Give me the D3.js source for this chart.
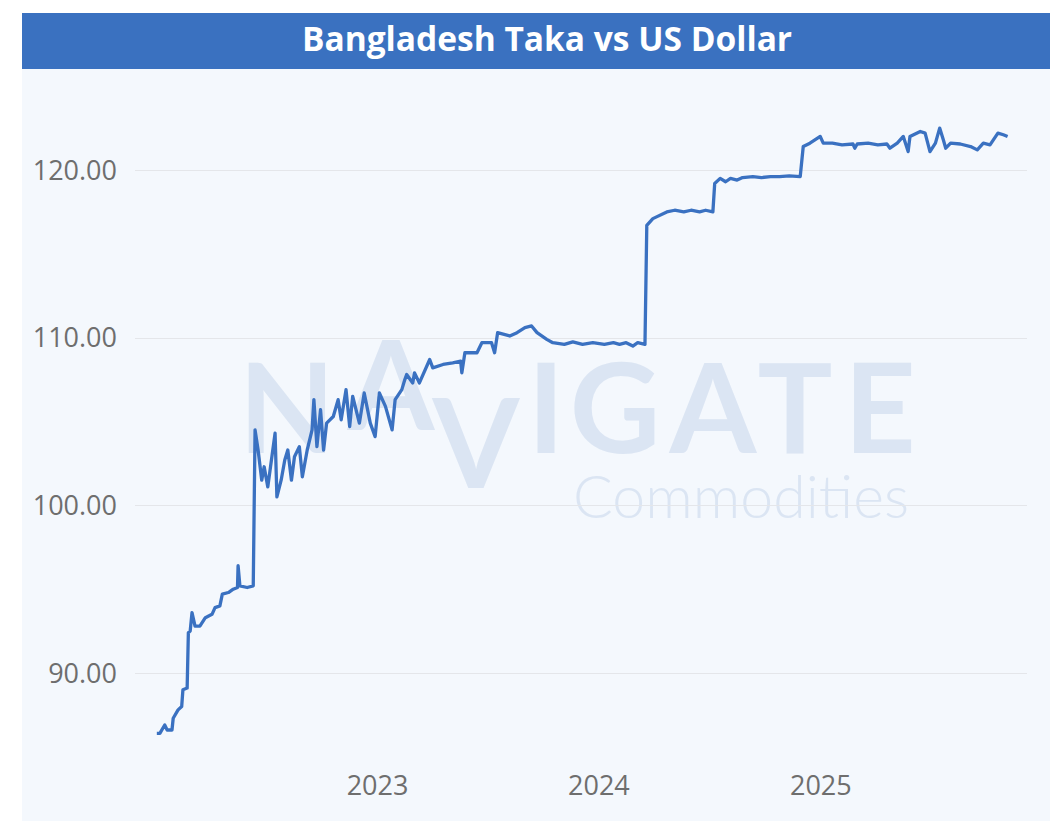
<!DOCTYPE html>
<meta charset="utf-8">
<style>
body { margin: 0; background: #fff; }
svg { display: block; font-family: "Open Sans", "Noto Sans", sans-serif; }
.grid line { stroke: #e4e6ea; stroke-width: 1px; }
.tick-label { fill: #6e6e6e; font-size: 27px; }
.title { fill: #fff; font-size: 33.5px; font-weight: 700; }
.wm { fill: #dbe5f3; font-family: Lato, "Open Sans", sans-serif; }
.rate { fill: none; stroke: #3a71c1; stroke-width: 3.3px; stroke-linejoin: round; }
</style>
<body>
<script src="https://cdn.jsdelivr.net/npm/d3@7"></script>
<script>

var width = 1050,
    height = 821;

// BDT per USD
var dates = [
  "2022-01-02","2022-01-07","2022-01-15","2022-01-19","2022-01-27","2022-01-29","2022-02-06","2022-02-12",
  "2022-02-14","2022-02-21","2022-02-23","2022-02-26","2022-03-01","2022-03-06","2022-03-14","2022-03-23",
  "2022-04-03","2022-04-08","2022-04-16","2022-04-20","2022-04-30","2022-05-08","2022-05-15","2022-05-16",
  "2022-05-19","2022-05-31","2022-06-10","2022-06-13","2022-06-18","2022-06-24","2022-06-28","2022-07-04",
  "2022-07-10","2022-07-16","2022-07-19","2022-07-26","2022-08-01","2022-08-06","2022-08-12","2022-08-17",
  "2022-08-25","2022-08-30","2022-09-07","2022-09-15","2022-09-18","2022-09-23","2022-09-29","2022-10-04",
  "2022-10-09","2022-10-20","2022-10-28","2022-11-02","2022-11-10","2022-11-16","2022-11-21","2022-12-02",
  "2022-12-10","2022-12-20","2022-12-28","2023-01-04","2023-01-14","2023-01-25","2023-01-30","2023-02-10",
  "2023-02-15","2023-02-18","2023-02-28","2023-03-03","2023-03-11","2023-03-28","2023-04-02","2023-04-19",
  "2023-05-05","2023-05-18","2023-05-20","2023-05-25","2023-06-14","2023-06-22","2023-07-08","2023-07-13",
  "2023-07-18","2023-08-07","2023-08-19","2023-09-01","2023-09-12","2023-09-21","2023-10-07","2023-10-17",
  "2023-11-05","2023-11-19","2023-12-05","2023-12-22","2024-01-10","2024-01-25","2024-02-04","2024-02-15",
  "2024-02-26","2024-03-05","2024-03-17","2024-03-20","2024-03-30","2024-04-22","2024-05-05","2024-05-20",
  "2024-06-01","2024-06-15","2024-06-25","2024-07-07","2024-07-10","2024-07-19","2024-07-28","2024-08-05",
  "2024-08-16","2024-08-25","2024-09-11","2024-09-25","2024-10-10","2024-10-25","2024-11-10","2024-11-28",
  "2024-12-03","2024-12-14","2024-12-31","2025-01-05","2025-01-20","2025-02-05","2025-02-23","2025-02-26",
  "2025-03-02","2025-03-20","2025-04-05","2025-04-20","2025-04-25","2025-05-07","2025-05-17","2025-05-25",
  "2025-05-28","2025-06-14","2025-06-22","2025-06-30","2025-07-09","2025-07-16","2025-07-22","2025-07-26",
  "2025-08-03","2025-08-19","2025-09-05","2025-09-16","2025-09-26","2025-10-07","2025-10-20","2025-10-29",
  "2025-11-05"
];

var rates = [
  86.4, 86.4, 86.9, 86.6, 86.6, 87.3, 87.8, 88.0,
  89.0, 89.1, 92.4, 92.5, 93.6, 92.8, 92.8, 93.3,
  93.5, 93.9, 94.0, 94.7, 94.8, 95.0, 95.1, 96.4,
  95.2, 95.1, 95.2, 104.5, 103.3, 101.5, 102.3, 101.1,
  102.7, 104.3, 100.5, 101.5, 102.7, 103.3, 101.5, 102.9,
  103.5, 101.7, 103.3, 104.5, 106.3, 103.5, 105.7, 103.3,
  104.9, 105.3, 106.3, 105.1, 106.9, 104.7, 106.5, 104.9,
  106.7, 104.9, 104.1, 106.7, 105.9, 104.5, 106.3, 106.9,
  107.5, 107.8, 107.3, 107.9, 107.3, 108.7, 108.2, 108.4,
  108.5, 108.6, 107.9, 109.1, 109.1, 109.7, 109.7, 109.1,
  110.3, 110.1, 110.3, 110.6, 110.7, 110.3, 109.9, 109.7,
  109.6, 109.75, 109.6, 109.7, 109.6, 109.7, 109.6, 109.7,
  109.5, 109.7, 109.6, 116.7, 117.1, 117.5, 117.6, 117.5,
  117.6, 117.5, 117.6, 117.5, 119.2, 119.5, 119.3, 119.5,
  119.4, 119.55, 119.6, 119.55, 119.6, 119.6, 119.65, 119.6,
  121.4, 121.6, 122.0, 121.6, 121.6, 121.5, 121.55, 121.3,
  121.55, 121.6, 121.5, 121.55, 121.3, 121.6, 122.0, 121.1,
  122.0, 122.3, 122.2, 121.1, 121.6, 122.5, 121.8, 121.3,
  121.6, 121.55, 121.4, 121.2, 121.6, 121.5, 122.2, 122.1,
  122.0
];

var yTicks = [90, 100, 110, 120];
var xTicks = ["2023-01-01", "2024-01-01", "2025-01-01"];
var titleText = "Bangladesh Taka vs US Dollar";

var parse = d3.utcParse("%Y-%m-%d");
var data = dates.map(function(d, i) { return { date: parse(d), value: rates[i] }; });

var x = d3.scaleUtc()
    .domain([parse("2021-11-27"), parse("2025-12-07")])
    .range([135, 1027]);

var y = d3.scaleLinear()
    .domain([90, 120])
    .range([673, 170]);

var svg = d3.select("body").append("svg")
    .attr("width", width)
    .attr("height", height);

// panel + title bar
svg.append("rect")
    .attr("x", 22).attr("y", 69)
    .attr("width", width - 22).attr("height", height - 69)
    .attr("fill", "#f4f8fd");

svg.append("rect")
    .attr("x", 22).attr("y", 13)
    .attr("width", width - 22).attr("height", 56)
    .attr("fill", "#3a71c0");

svg.append("text")
    .attr("class", "title")
    .attr("x", 547).attr("y", 51)
    .attr("text-anchor", "middle")
    .text(titleText);

// watermark
var wm = svg.append("g").attr("class", "wm");
var letters = [
  ["N", 287, 453], ["A", 391, 430], ["V", 476, 488],
  ["I", 546, 453], ["G", 615, 453], ["A", 713, 453], ["T", 795, 453], ["E", 880, 453]
];
wm.selectAll("text.big")
  .data(letters)
  .enter().append("text")
    .attr("class", "big")
    .attr("x", function(d) { return d[1]; })
    .attr("y", function(d) { return d[2]; })
    .attr("text-anchor", "middle")
    .attr("font-size", 125)
    .attr("font-weight", 700)
    .text(function(d) { return d[0]; });

wm.append("text")
    .attr("x", 741).attr("y", 518)
    .attr("text-anchor", "middle")
    .attr("font-size", 59)
    .attr("font-weight", 300)
    .text("Commodities");

// grid
svg.append("g")
    .attr("class", "grid")
  .selectAll("line")
  .data(yTicks)
  .enter().append("line")
    .attr("x1", 135).attr("x2", 1027)
    .attr("y1", function(d) { return Math.round(y(d)) + 0.5; })
    .attr("y2", function(d) { return Math.round(y(d)) + 0.5; });

svg.append("g")
  .selectAll("text")
  .data(yTicks)
  .enter().append("text")
    .attr("class", "tick-label")
    .attr("x", 117)
    .attr("y", function(d) { return y(d); })
    .attr("dy", "0.36em")
    .attr("text-anchor", "end")
    .text(function(d) { return d3.format(".2f")(d); });

svg.append("g")
  .selectAll("text")
  .data(xTicks.map(parse))
  .enter().append("text")
    .attr("class", "tick-label")
    .attr("x", function(d) { return x(d); })
    .attr("y", 795)
    .attr("text-anchor", "middle")
    .text(d3.utcFormat("%Y"));

// line
var line = d3.line()
    .x(function(d) { return x(d.date); })
    .y(function(d) { return y(d.value); });

svg.append("path")
    .datum(data)
    .attr("class", "rate")
    .attr("d", line);

</script>
